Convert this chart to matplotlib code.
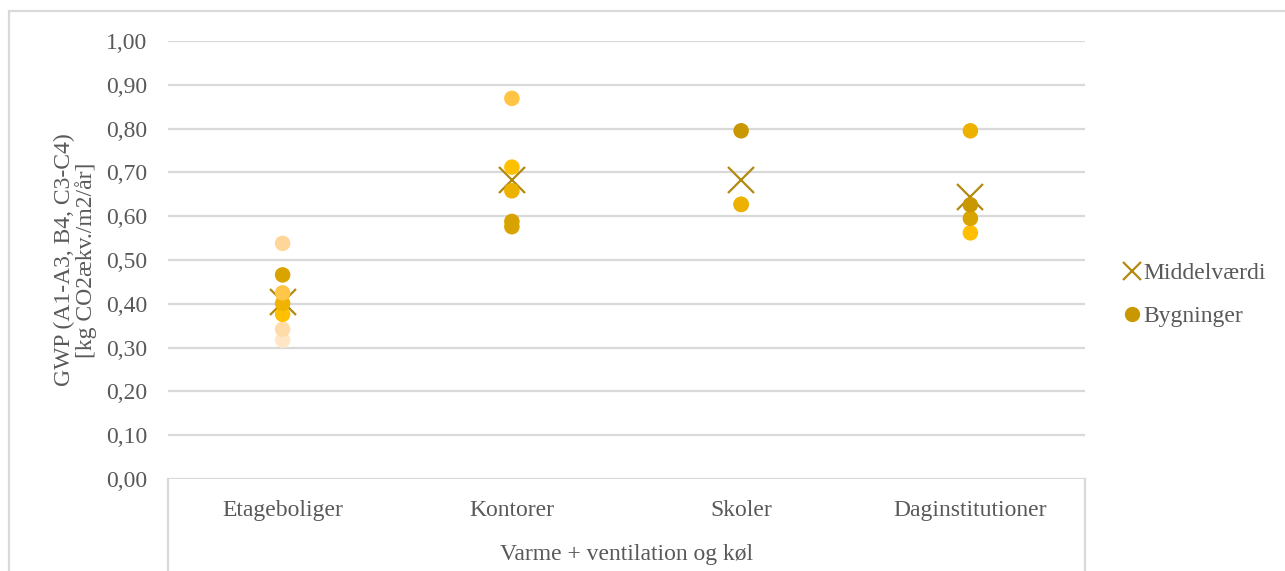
import matplotlib.pyplot as plt
from matplotlib.lines import Line2D
from matplotlib.patches import Rectangle

plt.rcParams["font.family"] = ["Liberation Serif", "DejaVu Serif"]

categories = ["Etageboliger", "Kontorer", "Skoler", "Daginstitutioner"]

# GWP per building, one list per building type
etageboliger = [0.538, 0.466, 0.425, 0.401, 0.376, 0.342, 0.317]
kontorer = [0.869, 0.712, 0.658, 0.588, 0.576]
skoler = [0.795, 0.627, 0.627]
daginstitutioner = [0.795, 0.626, 0.595, 0.562]

# point colours for each building
etage_colors = ["#FFD699", "#D9A300", "#FFC64A", "#F0B400", "#FFC000", "#FFDBA8", "#FFE6C6"]
kontor_colors = ["#FFC443", "#FFC000", "#EDB200", "#D8A200", "#D9A300"]
skole_colors = ["#C99700", "#EDB100", "#EDB100"]
dag_colors = ["#EDB100", "#C99700", "#D9A300", "#FFBF00"]

middelvaerdi = [0.405, 0.683, 0.683, 0.643]

yticks = [0.0, 0.1, 0.2, 0.3, 0.4, 0.5, 0.6, 0.7, 0.8, 0.9, 1.0]
ytick_labels = [f"{v:.2f}".replace(".", ",") for v in yticks]

grid_col = "#D9D9D9"
text_col = "#595959"
fs = 17

fig = plt.figure(figsize=(12.85, 5.71), dpi=100)
ax = fig.add_axes([168 / 1285, 1 - 479 / 571, 917 / 1285, 438 / 571])

ax.set_xlim(-0.5, 3.5)
ax.set_ylim(0, 1)
ax.set_yticks(yticks)
ax.set_yticklabels(ytick_labels)
ax.grid(axis="y", color=grid_col, linewidth=1.6)
ax.set_axisbelow(True)
for s in ax.spines.values():
    s.set_visible(False)
ax.tick_params(axis="both", length=0, labelsize=fs, labelcolor=text_col)
ax.tick_params(axis="y", pad=15)
ax.tick_params(axis="x", pad=15)
ax.set_xticks(range(len(categories)))
ax.set_xticklabels(categories)

# mean markers below the building dots
ax.plot(range(len(categories)), middelvaerdi, linestyle="none", marker="x",
        markersize=19, markeredgewidth=1.6, color="#B38A10", zorder=2)

groups = [etageboliger, kontorer, skoler, daginstitutioner]
group_colors = [etage_colors, kontor_colors, skole_colors, dag_colors]
for i, (vals, cols) in enumerate(zip(groups, group_colors)):
    # draw from bottom up so higher dots sit on top
    for v, c in sorted(zip(vals, cols)):
        ax.scatter([i], [v], s=125, color=c, edgecolors="none", zorder=3)

# category box below the plot area
for x in (0, 1):
    ax.add_line(Line2D([x, x], [0, -0.3], transform=ax.transAxes, color=grid_col,
                       linewidth=1.6, clip_on=False))

ax.set_xlabel("Varme + ventilation og køl", fontsize=fs, color=text_col, labelpad=17)
ax.set_ylabel("GWP (A1-A3, B4, C3-C4)\n[kg CO2ækv./m2/år]", fontsize=fs,
              color=text_col, linespacing=1.0, va="center")
ax.yaxis.set_label_coords(-0.101, 0.5)

handles = [
    Line2D([], [], linestyle="none", marker="x", markersize=13, markeredgewidth=1.6,
           color="#B38A10", label="Middelværdi"),
    Line2D([], [], linestyle="none", marker="o", markersize=11, color="#C99700",
           markeredgecolor="none", label="Bygninger"),
]
leg = fig.legend(handles=handles, loc="center left",
                 bbox_to_anchor=(1113 / 1285, 1 - 295 / 571), frameon=False,
                 fontsize=fs, handlelength=0.6, handletextpad=0.2,
                 labelspacing=0.9, borderpad=0)
for t in leg.get_texts():
    t.set_color(text_col)

fig.patches.append(Rectangle((9 / 1285, -0.1), 1.2, 1.1 - 11.5 / 571,
                             transform=fig.transFigure, fill=False,
                             edgecolor=grid_col, linewidth=1.6))

fig.savefig("out.png", dpi=100, facecolor="white")
